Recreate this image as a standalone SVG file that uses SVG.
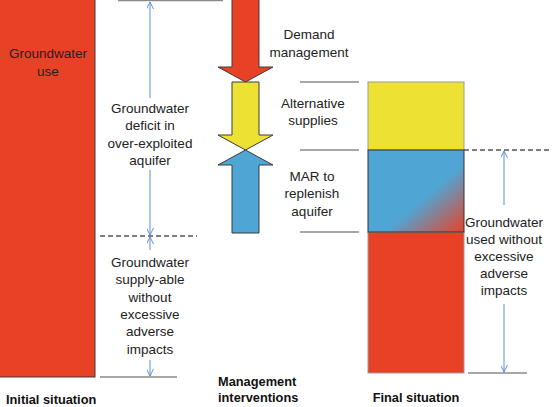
<svg xmlns="http://www.w3.org/2000/svg" width="552" height="407" viewBox="0 0 552 407">
<style>
text{font-family:"Liberation Sans",Arial,sans-serif;font-size:13.5px;fill:#222;text-anchor:middle}
.b{font-weight:bold;font-size:12.8px;fill:#111}
.red{fill:#E84226}
.yel{fill:#EDE234}
.blu{fill:#4FA6D5}
.ol{stroke:#3a3a3a;stroke-width:1}
.gl{stroke:#8a8a8a;stroke-width:1.3;fill:none}
.dash{stroke:#555;stroke-width:1.3;stroke-dasharray:5 3;fill:none}
.ar{stroke:#5B8FD0;stroke-width:1;fill:none}
</style>
<defs>
<linearGradient id="g" x1="0" y1="0" x2="1" y2="1">
<stop offset="0.58" stop-color="#4FA6D5"/>
<stop offset="1" stop-color="#E84226"/>
</linearGradient>
<marker id="ah" viewBox="0 0 10 10" refX="10" refY="5" markerWidth="7" markerHeight="7" orient="auto-start-reverse" markerUnits="userSpaceOnUse">
<path d="M0,0 L10,5 L0,10" fill="none" stroke="#5B8FD0" stroke-width="1.4"/>
</marker>
</defs>

<g id="initial-situation">
<rect class="red ol" x="-1" y="-1" width="96" height="378"/>
<text x="48" y="58">Groundwater</text>
<text x="48" y="75.5">use</text>
</g>

<g id="deficit-label">
<text x="150" y="113">Groundwater</text>
<text x="150" y="130.4">deficit in</text>
<text x="150" y="147.8">over-exploited</text>
<text x="150" y="165.2">aquifer</text>
</g>

<g id="supply-label">
<text x="150" y="267">Groundwater</text>
<text x="150" y="284.3">supply-able</text>
<text x="150" y="301.6">without</text>
<text x="150" y="318.9">excessive</text>
<text x="150" y="336.2">adverse</text>
<text x="150" y="353.5">impacts</text>
</g>

<g id="demand-management">
<path class="red ol" d="M232,-1 H259 V67 H273 L245.5,82 L218,67 H232 Z"/>
<text x="309" y="39">Demand</text>
<text x="309" y="56.5">management</text>
</g>

<g id="alternative-supplies">
<path class="yel ol" d="M232,82 H259 V135 H273 L245.5,150 L218,135 H232 Z"/>
<text x="313" y="108">Alternative</text>
<text x="313" y="125">supplies</text>
</g>

<g id="mar">
<path class="blu ol" d="M232,233 H259 V165 H273 L245.5,150 L218,165 H232 Z"/>
<text x="312" y="181">MAR to</text>
<text x="312" y="198.3">replenish</text>
<text x="312" y="215.6">aquifer</text>
</g>

<g id="final-situation">
<rect class="yel" x="368" y="82" width="96" height="68" stroke="#999" stroke-width="1"/>
<rect class="red" x="368" y="232" width="96" height="141" stroke="#999" stroke-width="1"/>
<rect x="368" y="150" width="96" height="82" fill="url(#g)" stroke="#333" stroke-width="1"/>
</g>

<g id="final-label">
<text x="504" y="227">Groundwater</text>
<text x="504" y="244">used without</text>
<text x="504" y="261">excessive</text>
<text x="504" y="278">adverse</text>
<text x="504" y="295">impacts</text>
</g>

<g id="captions">
<text class="b" x="6" y="403.5" style="text-anchor:start">Initial situation</text>
<text class="b" x="218" y="386" style="text-anchor:start">Management</text>
<text class="b" x="218" y="402" style="text-anchor:start">interventions</text>
<text class="b" x="416" y="401.5">Final situation</text>
</g>

<g id="connectors">
<line class="gl" x1="118" y1="0.5" x2="223" y2="0.5"/>
<line class="gl" x1="100" y1="377" x2="177" y2="377"/>
<line class="dash" x1="100" y1="236" x2="197" y2="236"/>
<line class="ar" x1="150" y1="2" x2="150" y2="98" marker-start="url(#ah)"/>
<line class="ar" x1="150" y1="170" x2="150" y2="235" marker-end="url(#ah)"/>
<line class="ar" x1="150" y1="237" x2="150" y2="250" marker-start="url(#ah)"/>
<line class="ar" x1="150" y1="360" x2="150" y2="376" marker-end="url(#ah)"/>
<line class="gl" x1="300" y1="82" x2="359" y2="82"/>
<line class="gl" x1="300" y1="150" x2="359" y2="150"/>
<line class="gl" x1="300" y1="232" x2="359" y2="232"/>
<line class="dash" x1="464" y1="150" x2="552" y2="150"/>
<line class="ar" x1="504" y1="151" x2="504" y2="205" marker-start="url(#ah)"/>
<line class="ar" x1="504" y1="304" x2="504" y2="372" marker-end="url(#ah)"/>
<line class="gl" x1="468" y1="373" x2="527" y2="373"/>
</g>
</svg>
